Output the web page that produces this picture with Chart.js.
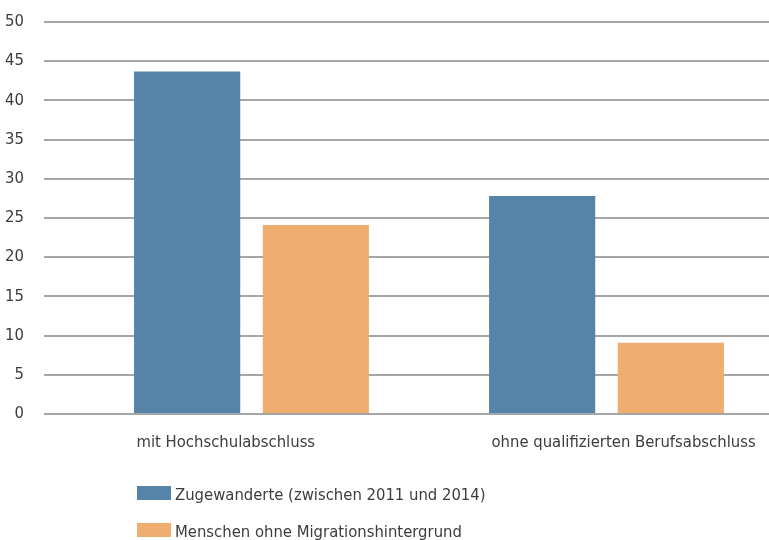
<!DOCTYPE html>
<html>
<head>
<meta charset="utf-8">
<script src="https://cdn.jsdelivr.net/npm/chart.js@4/dist/chart.umd.min.js"></script>
<style>
html,body{margin:0;padding:0;background:#fff;overflow:hidden;width:769px;height:540px;}
#wrap{width:784px;height:540px;}
</style>
</head>
<body>
<div id="wrap"><canvas id="c" width="784" height="540"></canvas></div>
<script>
const categories = ['mit Hochschulabschluss', 'ohne qualifizierten Berufsabschluss'];
const seriesNames = ['Zugewanderte (zwischen 2011 und 2014)', 'Menschen ohne Migrationshintergrund'];
const zugewanderte = [43.7, 27.8];
const ohneMigration = [24.1, 9.1];
const yTicks = [0, 5, 10, 15, 20, 25, 30, 35, 40, 45, 50];

const FONT = '"Liberation Sans Narrow", "DejaVu Sans Condensed", "Roboto Condensed", sans-serif';
const FSIZE = 16.5;
const TEXT = '#3c3c3c';
const BLUE = '#5683a8';
const ORANGE = '#efad6f';
const GRID = '#a6a6a6';

const legendPlugin = {
  id: 'stackedLegend',
  afterDraw(chart) {
    const ctx = chart.ctx;
    ctx.save();
    ctx.font = FSIZE + 'px ' + FONT;
    ctx.textBaseline = 'alphabetic';
    ctx.textAlign = 'left';
    chart.data.datasets.forEach((ds, i) => {
      const top = 486 + i * 37;
      ctx.fillStyle = ds.backgroundColor;
      ctx.fillRect(137, top, 34, 14);
      ctx.fillStyle = TEXT;
      ctx.fillText(ds.label, 175, top + 14);
    });
    ctx.restore();
  }
};

new Chart(document.getElementById('c'), {
  type: 'bar',
  data: {
    labels: categories,
    datasets: [
      { label: seriesNames[0], data: zugewanderte, backgroundColor: BLUE },
      { label: seriesNames[1], data: ohneMigration, backgroundColor: ORANGE }
    ]
  },
  options: {
    responsive: false,
    animation: false,
    events: [],
    layout: { padding: { top: 22, left: 0, right: 0, bottom: 0 } },
    datasets: { bar: { categoryPercentage: 0.725, barPercentage: 0.825 } },
    plugins: { legend: { display: false }, tooltip: { enabled: false }, title: { display: false } },
    scales: {
      x: {
        grid: { display: false },
        border: { display: false },
        ticks: {
          align: 'start',
          labelOffset: -115,
          padding: 11,
          color: TEXT,
          font: { family: FONT, size: FSIZE },
          maxRotation: 0
        },
        afterFit(scale) {
          scale.height = 126;
          scale.paddingLeft = 0;
          scale.paddingRight = 0;
        }
      },
      y: {
        min: 0, max: 50,
        afterBuildTicks(scale) { scale.ticks = yTicks.map(v => ({ value: v })); },
        grid: { color: GRID, lineWidth: 2, tickLength: 30, tickColor: GRID, drawTicks: true },
        border: { display: false },
        ticks: {
          padding: 20,
          color: TEXT,
          font: { family: FONT, size: FSIZE }
        },
        afterFit(scale) {
          scale.width = 74;
          scale.paddingTop = 0;
          scale.paddingBottom = 0;
        }
      }
    }
  },
  plugins: [legendPlugin]
});
</script>
</body>
</html>
